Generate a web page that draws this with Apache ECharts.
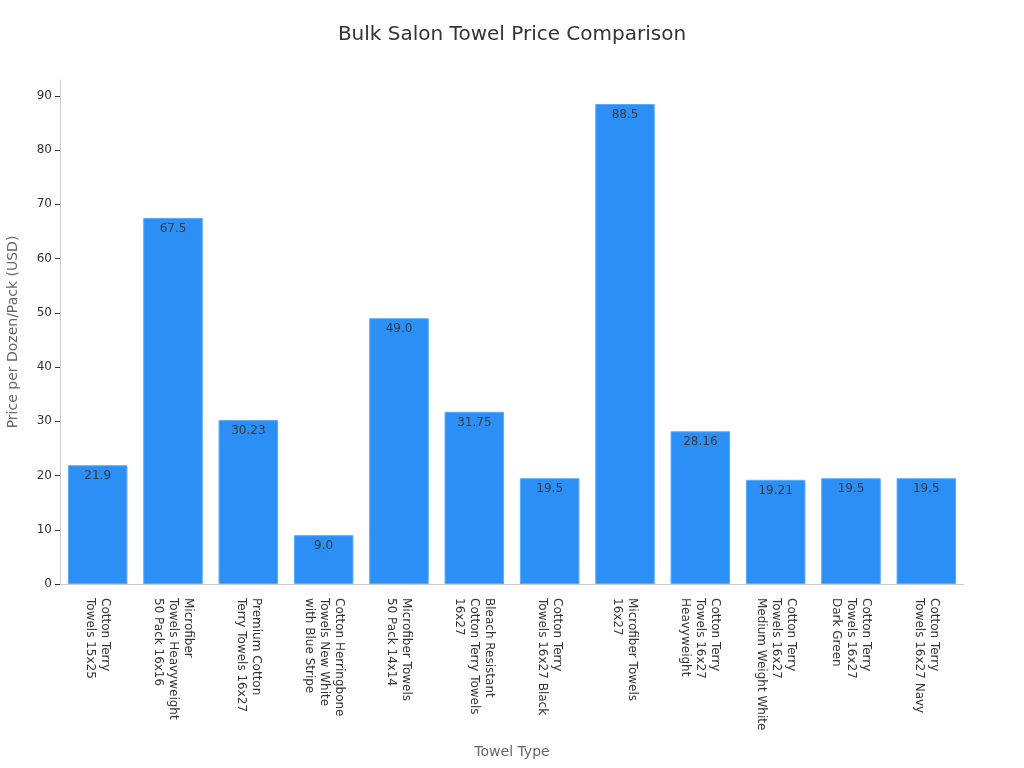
<!DOCTYPE html>
<html><head><meta charset="utf-8">
<script src="https://cdn.jsdelivr.net/npm/echarts@6/dist/echarts.min.js"></script>
<style>html,body{margin:0;padding:0;background:#fff}#c{width:1024px;height:768px}</style>
</head><body><div id="c"></div>
<script>
const categories = [
  "Cotton Terry\nTowels 15x25",
  "Microfiber\nTowels Heavyweight\n50 Pack 16x16",
  "Premium Cotton\nTerry Towels 16x27",
  "Cotton Herringbone\nTowels New White\nwith Blue Stripe",
  "Microfiber Towels\n50 Pack 14x14",
  "Bleach Resistant\nCotton Terry Towels\n16x27",
  "Cotton Terry\nTowels 16x27 Black",
  "Microfiber Towels\n16x27",
  "Cotton Terry\nTowels 16x27\nHeavyweight",
  "Cotton Terry\nTowels 16x27\nMedium Weight White",
  "Cotton Terry\nTowels 16x27\nDark Green",
  "Cotton Terry\nTowels 16x27 Navy"
];
const prices = [21.9, 67.5, 30.23, 9.0, 49.0, 31.75, 19.5, 88.5, 28.16, 19.21, 19.5, 19.5];
const yTicks = [0, 10, 20, 30, 40, 50, 60, 70, 80, 90];

const chart = echarts.init(document.getElementById('c'), null, {renderer: 'canvas'});
chart.setOption({
  animation: false,
  title: {
    text: 'Bulk Salon Towel Price Comparison',
    left: 'center', top: 20,
    textStyle: {fontSize: 20, fontWeight: 'normal', color: '#333', fontFamily: 'DejaVu Sans'}
  },
  grid: {left: 60, right: 60, top: 80, bottom: 184, containLabel: false, outerBoundsMode: 'none'},
  xAxis: {
    type: 'category',
    data: categories,
    name: 'Towel Type',
    nameLocation: 'middle',
    nameGap: 161,
    nameTextStyle: {fontSize: 14, color: '#666', fontFamily: 'DejaVu Sans'},
    axisLine: {lineStyle: {color: '#ccc'}},
    axisTick: {alignWithLabel: true, lineStyle: {color: '#333'}},
    axisLabel: {rotate: -90, interval: 0, margin: 14, fontSize: 12, color: '#333', fontFamily: 'DejaVu Sans', lineHeight: 15}
  },
  yAxis: {
    type: 'value',
    min: 0,
    max: 88.5 * 1.05,
    interval: 10,
    name: 'Price per Dozen/Pack (USD)',
    nameLocation: 'middle',
    nameGap: 40,
    nameTextStyle: {fontSize: 14, color: '#666', fontFamily: 'DejaVu Sans'},
    axisLine: {show: true, lineStyle: {color: '#ccc'}},
    axisTick: {show: true, lineStyle: {color: '#333'}},
    splitLine: {show: false},
    axisLabel: {
      fontSize: 12, color: '#333', fontFamily: 'DejaVu Sans',
      showMaxLabel: false,
      formatter: v => yTicks.includes(v) ? String(v) : ''
    }
  },
  series: [{
    type: 'bar',
    data: prices,
    barWidth: '79%',
    itemStyle: {color: '#2b8ff6', borderColor: '#5aa9f9', borderWidth: 1},
    label: {
      show: true, position: 'insideTop', fontSize: 12, color: '#3a3a3a',
      fontFamily: 'DejaVu Sans',
      formatter: p => Number.isInteger(p.value) ? p.value.toFixed(1) : String(p.value)
    }
  }]
});
</script></body></html>
